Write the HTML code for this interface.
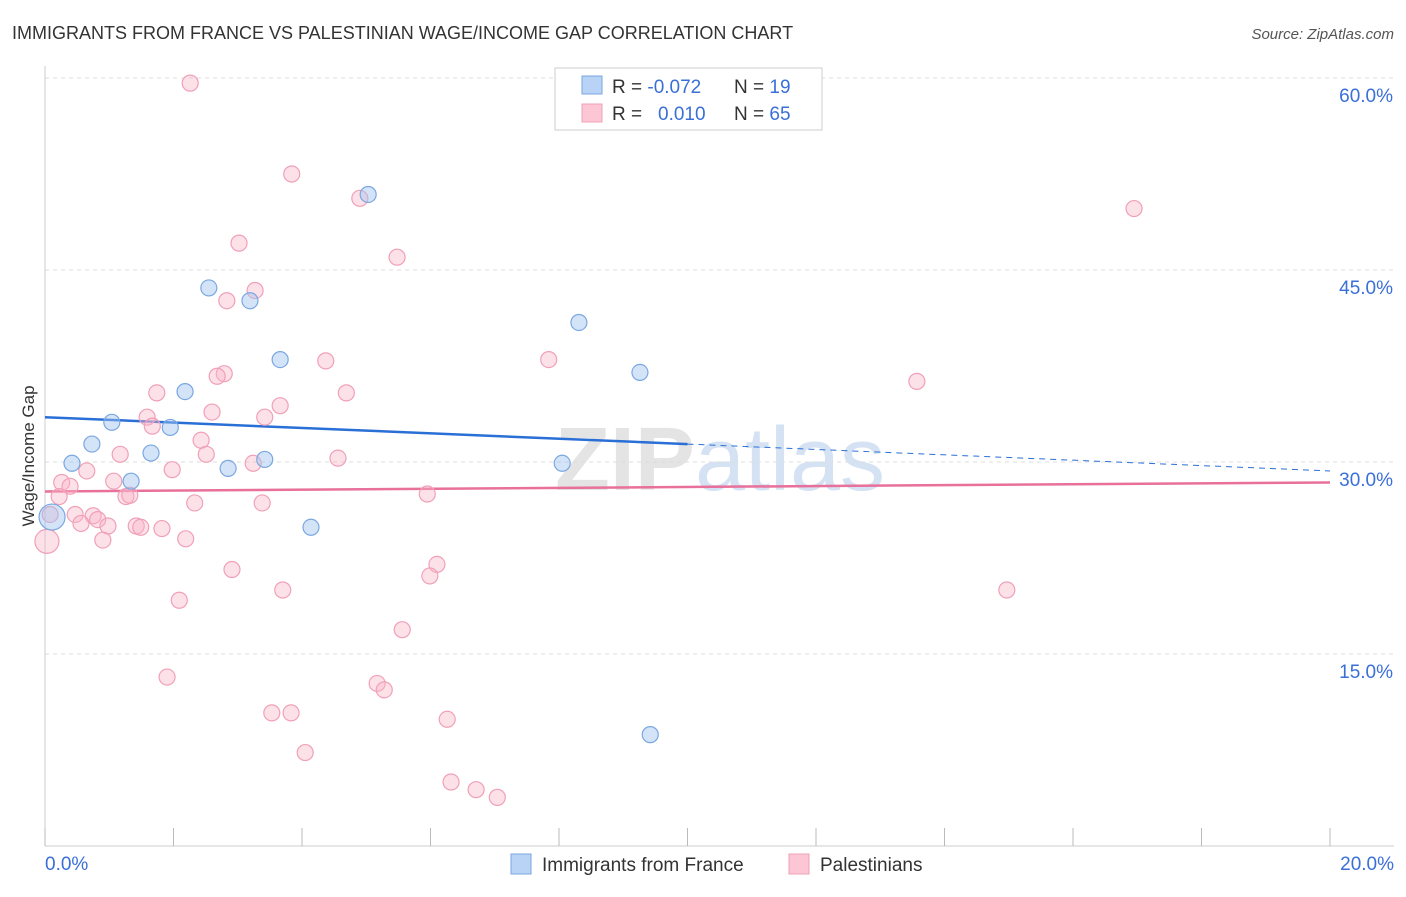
<!DOCTYPE html>
<html><head><meta charset="utf-8"><style>
body{margin:0;background:#fff;font-family:"Liberation Sans",sans-serif;}
svg text{font-family:"Liberation Sans",sans-serif;}
</style></head><body>
<svg id="chart" width="1406" height="892" xmlns="http://www.w3.org/2000/svg">
<text x="12" y="39" font-size="18" fill="#333">IMMIGRANTS FROM FRANCE VS PALESTINIAN WAGE/INCOME GAP CORRELATION CHART</text>
<text x="1394" y="39" font-size="15" fill="#555" text-anchor="end" font-style="italic">Source: ZipAtlas.com</text>
<text x="720" y="490" font-size="90" fill="#e4e4e4" text-anchor="middle" font-family="Liberation Serif" font-weight="bold">ZIP<tspan fill="#d4e2f4" font-family="Liberation Sans" font-weight="normal">atlas</tspan></text>
<g id="grid"></g><g id="axes"></g><g id="lines"></g><g id="dots"></g>
<text transform="translate(34,456) rotate(-90)" font-size="17" fill="#333" text-anchor="middle">Wage/Income Gap</text>
<g>
<rect x="555" y="68" width="267" height="62" fill="#fff" stroke="#ccc"/>
<rect x="582" y="76" width="20" height="18" fill="#b8d3f5" stroke="#7aa7e0"/>
<rect x="582" y="104" width="20" height="18" fill="#fcc6d5" stroke="#f0a0b8"/>
<text x="612" y="93" font-size="19" fill="#333">R = <tspan fill="#3a6fd8">-0.072</tspan><tspan x="734">N = </tspan><tspan fill="#3a6fd8">19</tspan></text>
<text x="612" y="120" font-size="19" fill="#333">R = <tspan fill="#3a6fd8" x="658">0.010</tspan><tspan x="734">N = </tspan><tspan fill="#3a6fd8">65</tspan></text>
</g>
<g>
<rect x="511" y="854" width="20" height="20" fill="#b8d3f5" stroke="#7aa7e0"/>
<text x="542" y="871" font-size="19" fill="#333">Immigrants from France</text>
<rect x="789" y="854" width="20" height="20" fill="#fcc6d5" stroke="#f0a0b8"/>
<text x="820" y="871" font-size="19" fill="#333">Palestinians</text>
</g>
</svg>
<script>
const xTicks=[0,2,4,6,8,10,12,14,16,18,20];
const yTicks=[15,30,45,60];
const franceX=[0.11,0.42,0.73,1.04,1.34,1.65,1.95,2.18,2.55,2.85,3.19,3.42,3.66,4.14,5.03,8.05,8.31,9.26,9.42];
const franceY=[25.7,29.9,31.4,33.1,28.5,30.7,32.7,35.5,43.6,29.5,42.6,30.2,38.0,24.9,50.9,29.9,40.9,37.0,8.7];
const palX=[2.26,3.84,4.90,16.95,3.02,5.48,3.27,2.83,4.37,7.84,2.79,2.68,1.74,4.69,13.57,3.66,2.60,3.42,1.59,1.67,2.43,1.17,2.51,4.56,3.24,0.65,1.98,0.26,0.39,1.07,0.22,1.26,1.32,5.95,3.38,2.33,0.47,0.75,0.82,0.56,0.98,1.42,1.49,1.82,0.08,0.90,2.19,0.03,6.10,2.91,5.99,3.70,14.97,2.09,5.56,1.90,5.17,5.28,3.53,3.83,6.26,4.05,6.32,6.71,7.04];
const palY=[59.6,52.5,50.6,49.8,47.1,46.0,43.4,42.6,37.9,38.0,36.9,36.7,35.4,35.4,36.3,34.4,33.9,33.5,33.5,32.8,31.7,30.6,30.6,30.3,29.9,29.3,29.4,28.4,28.1,28.5,27.3,27.3,27.4,27.5,26.8,26.8,25.9,25.8,25.5,25.2,25.0,25.0,24.9,24.8,25.9,23.9,24.0,23.8,22.0,21.6,21.1,20.0,20.0,19.2,16.9,13.2,12.7,12.2,10.4,10.4,9.9,7.3,5.0,4.4,3.8];
const blueLine=[33.5,29.3];
const pinkLine=[27.7,28.4];
const NS="http://www.w3.org/2000/svg";
const xs=v=>45+v*64.25, ys=v=>846-v*12.8;
function mk(t,a,p){const e=document.createElementNS(NS,t);for(const k in a)e.setAttribute(k,a[k]);p.appendChild(e);return e;}
const g=document.getElementById('grid'),ax=document.getElementById('axes'),ln=document.getElementById('lines'),dt=document.getElementById('dots');
yTicks.forEach(v=>{
 const l=mk('line',{x1:45,x2:1394,y1:ys(v),y2:ys(v),stroke:'#ddd','stroke-dasharray':'4,4'},g);
 
 
 const t=mk('text',{x:1393,y:ys(v)+24,'font-size':19,fill:'#3a6fd8','text-anchor':'end'},ax);
 t.textContent=v.toFixed(1)+'%';
 
 
});
const yl=mk('line',{x1:45,x2:45,y1:66,y2:846,stroke:'#ccc'},ax);


const xl=mk('line',{x1:45,x2:1394,y1:846,y2:846,stroke:'#ccc'},ax);


xTicks.forEach(v=>{
 const l=mk('line',{x1:xs(v),x2:xs(v),y1:828,y2:846,stroke:'#bbb'},ax);
 
 
});
[[0,'start',45],[20,'end',1394]].forEach(([v,a,x])=>{
 const t=mk('text',{x:x,y:870,'font-size':19,fill:'#3a6fd8','text-anchor':a},ax);
 t.textContent=v.toFixed(1)+'%';
 
 
});
const bx=xs(10), by=blueLine[0]+(blueLine[1]-blueLine[0])*0.5;
const b1=mk('line',{x1:xs(0),y1:ys(blueLine[0]),x2:bx,y2:ys(by),stroke:'#2a6fd6','stroke-width':2.5},ln);


const b2=mk('line',{x1:bx,y1:ys(by),x2:xs(20),y2:ys(blueLine[1]),stroke:'#2a6fd6','stroke-width':1,'stroke-dasharray':'6,5'},ln);


const p1=mk('line',{x1:xs(0),y1:ys(pinkLine[0]),x2:xs(20),y2:ys(pinkLine[1]),stroke:'#e8709a','stroke-width':2.5},ln);


palX.forEach((x,i)=>{
 const c=mk('circle',{cx:xs(x),cy:ys(palY[i]),r:i==47?12:8,fill:'rgba(250,180,200,0.4)',stroke:'#f0a0b8','stroke-width':1.2},dt);
 
 
});
franceX.forEach((x,i)=>{
 const c=mk('circle',{cx:xs(x),cy:ys(franceY[i]),r:i==0?13:8,fill:'rgba(160,195,240,0.45)',stroke:'#7aa7e0','stroke-width':1.2},dt);
 
 
});
</script>
</body></html>
